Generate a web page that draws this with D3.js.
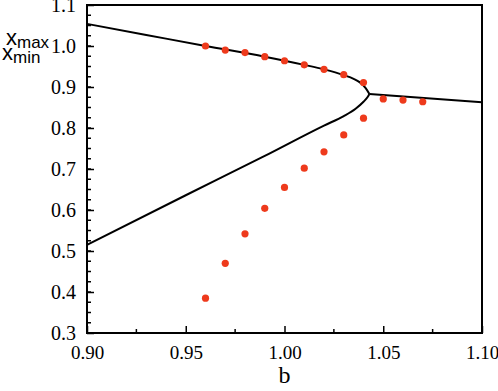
<!DOCTYPE html>
<html>
<head>
<meta charset="utf-8">
<script src="https://cdn.jsdelivr.net/npm/d3@7"></script>
<style>
  body { margin: 0; background: #fff; }
</style>
</head>
<body>
<script>
svgWidth = 498
svgHeight = 391
margin = {"top": 5, "bottom": 58, "left": 87, "right": 16}
chartWidth = svgWidth - (margin.left + margin.right)
chartHeight = svgHeight - (margin.top + margin.bottom)

var serif = "'Liberation Serif', 'Times New Roman', 'DejaVu Serif', serif"

// tick values
var xTicks = [0.90, 0.95, 1.00, 1.05, 1.10]
var yTicks = [0.3, 0.4, 0.5, 0.6, 0.7, 0.8, 0.9, 1.0, 1.1]

// bifurcation curve
var upperB = [0.900, 0.930, 0.960, 0.990, 1.010, 1.020, 1.030, 1.035, 1.038, 1.041, 1.043]
var upperX = [1.054, 1.027, 1.000, 0.974, 0.954, 0.943, 0.929, 0.920, 0.912, 0.898, 0.883]
var lowerB = [0.900, 0.950, 0.990, 1.020, 1.030, 1.036, 1.040, 1.042, 1.043]
var lowerX = [0.515, 0.636, 0.732, 0.806, 0.829, 0.847, 0.864, 0.875, 0.883]
var rightB = [1.043, 1.100]
var rightX = [0.883, 0.863]

// simulation points
var dotB = [0.96, 0.97, 0.98, 0.99, 1.00, 1.01, 1.02, 1.03, 1.04,
            0.96, 0.97, 0.98, 0.99, 1.00, 1.01, 1.02, 1.03, 1.04,
            1.05, 1.06, 1.07]
var dotX = [1.000, 0.990, 0.984, 0.974, 0.964, 0.954, 0.943, 0.930, 0.911,
            0.385, 0.470, 0.542, 0.604, 0.655, 0.702, 0.742, 0.783, 0.824,
            0.871, 0.868, 0.864]

xScale = d3.scaleLinear().domain([0.90, 1.10]).range([0, chartWidth])
yScale = d3.scaleLinear().domain([0.3, 1.1]).range([chartHeight, 0])

var svg = d3.select("body").append("svg")
          .attr("width", svgWidth)
          .attr("height", svgHeight)

var g = svg.append("g")
    .attr("transform", "translate(" + margin.left + "," + margin.top + ")")

// minor ticks (inward)
var xMinor = d3.range(0.925, 1.1, 0.05)
var yMinor = d3.range(0.3, 1.1001, 0.025)

g.selectAll(".xminor").data(xMinor).enter().append("line")
    .attr("x1", d => xScale(d)).attr("x2", d => xScale(d))
    .attr("y1", chartHeight).attr("y2", chartHeight - 4)
    .attr("stroke", "#000").attr("stroke-width", 1.5)

g.selectAll(".yminor").data(yMinor).enter().append("line")
    .attr("x1", 0).attr("x2", 4)
    .attr("y1", d => yScale(d)).attr("y2", d => yScale(d))
    .attr("stroke", "#000").attr("stroke-width", 1.5)

xAxis = d3.axisBottom(xScale).tickValues(xTicks)
    .tickSize(-7).tickPadding(13)
    .tickFormat(d3.format(".2f"))

yAxis = d3.axisLeft(yScale).tickValues(yTicks)
    .tickSize(-7).tickPadding(11)
    .tickFormat(d3.format(".1f"))

var gx = g.append("g")
    .attr("transform", "translate(0," + chartHeight + ")")
    .call(xAxis)
gx.select(".domain").remove()
gx.selectAll("line").attr("stroke-width", 1.5)
gx.selectAll("text").style("font-family", serif).style("font-size", "19px")

var gy = g.append("g").call(yAxis)
gy.select(".domain").remove()
gy.selectAll("line").attr("stroke-width", 1.5)
gy.selectAll("text").style("font-family", serif).style("font-size", "20px")

// frame
g.append("rect")
    .attr("width", chartWidth).attr("height", chartHeight)
    .attr("fill", "none").attr("stroke", "#000").attr("stroke-width", 2)

var line = d3.line()
    .x(d => xScale(d[0]))
    .y(d => yScale(d[1]))
    .curve(d3.curveMonotoneX)

var branches = [
  d3.zip(upperB, upperX),
  d3.zip(lowerB, lowerX),
  d3.zip(rightB, rightX)
]

g.selectAll(".branch").data(branches).enter().append("path")
    .attr("class", "branch")
    .attr("d", line)
    .attr("fill", "none")
    .attr("stroke", "#000")
    .attr("stroke-width", 2)

g.selectAll(".dot").data(d3.zip(dotB, dotX)).enter().append("circle")
    .attr("class", "dot")
    .attr("cx", d => xScale(d[0]))
    .attr("cy", d => yScale(d[1]))
    .attr("r", 3.6)
    .attr("fill", "#ee3a1c")

// axis titles
svg.append("text")
    .attr("x", margin.left + chartWidth / 2)
    .attr("y", 383)
    .attr("text-anchor", "middle")
    .style("font-family", serif)
    .style("font-size", "24px")
    .text("b")

var lab = svg.append("g")
    .style("font-family", "'Liberation Sans', Arial, sans-serif")

var t1 = lab.append("text").attr("x", 6).attr("y", 45).style("font-size", "22px")
t1.append("tspan").text("x")
t1.append("tspan").style("font-size", "17px").attr("dy", 3).text("max")

var t2 = lab.append("text").attr("x", 2).attr("y", 60).style("font-size", "22px")
t2.append("tspan").text("x")
t2.append("tspan").style("font-size", "17px").attr("dy", 3).text("min")
</script>
</body>
</html>
